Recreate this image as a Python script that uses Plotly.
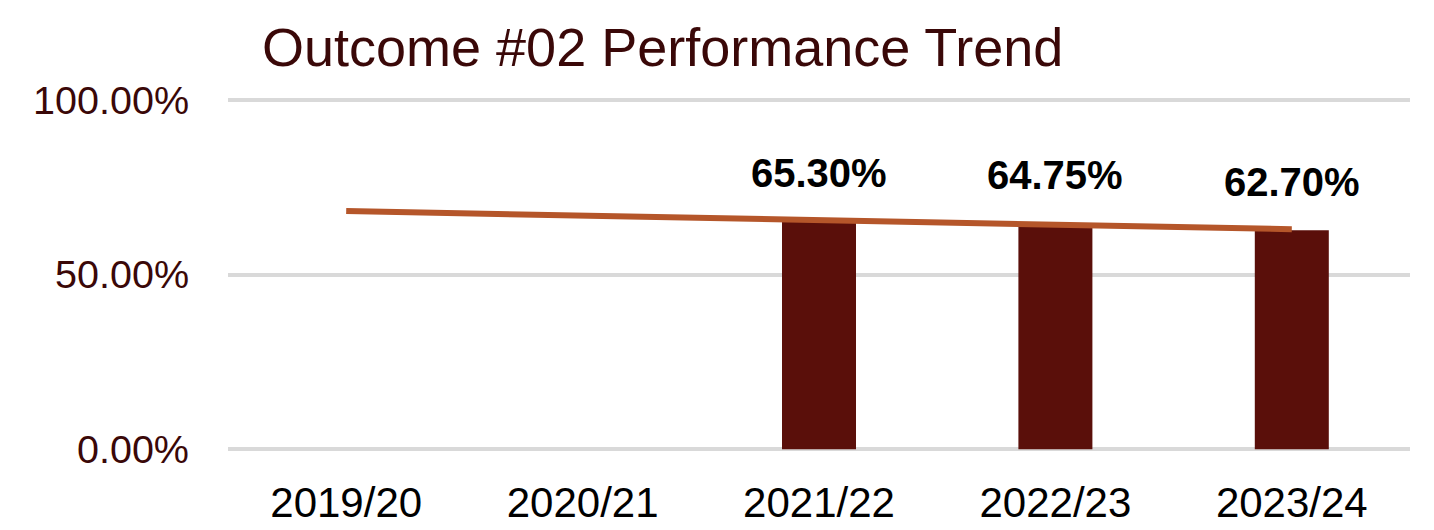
import plotly.graph_objects as go

# data
years = ["2019/20", "2020/21", "2021/22", "2022/23", "2023/24"]
bar_years = ["2021/22", "2022/23", "2023/24"]
bar_values = [65.30, 64.75, 62.70]
trend_years = ["2019/20", "2023/24"]
trend_values = [68.15, 62.95]
y_ticks = [0, 50, 100]
y_tick_text = ["0.00%", "50.00%", "100.00%"]

FONT = "Liberation Sans, Arial, sans-serif"
TEXT_DARK = "#3a0808"

fig = go.Figure()

fig.add_trace(go.Bar(x=bar_years, y=bar_values, marker=dict(color="#5a0f0a", line=dict(width=0)),
                     hoverinfo="skip"))

fig.add_trace(go.Scatter(x=trend_years, y=trend_values, mode="lines",
                         line=dict(color="#b5562a", width=6), hoverinfo="skip"))

# bold value labels over the bars
for yr, v in zip(bar_years, bar_values):
    fig.add_annotation(x=yr, y=v, text="<b>{:.2f}%</b>".format(v), showarrow=False,
                       yanchor="middle", yshift=48,
                       font=dict(family=FONT, size=40, color="#000000"))

# page body adds 8px, so margins are pulled in by that much
# y range padded a bit so the 0% and 100% gridlines still get drawn
fig.update_layout(
    width=1434, height=530,
    margin=dict(l=220, r=32, t=92 - 2.8, b=84 - 2.8),
    paper_bgcolor="white", plot_bgcolor="white",
    showlegend=False,
    bargap=0.687,
    font=dict(family=FONT),
    title=dict(text="Outcome #02 Performance Trend", x=254 / 1434, xanchor="left",
               y=1 - 39 / 530, yanchor="middle",
               font=dict(family=FONT, size=54, color=TEXT_DARK)),
)

fig.update_xaxes(categoryorder="array", categoryarray=years, range=[-0.5, 4.5],
                 showgrid=False, showline=False, ticks="", zeroline=False,
                 tickfont=dict(family=FONT, size=42, color="#000000"),
                 ticklabelstandoff=22)

fig.update_yaxes(range=[-0.8, 100.8], tickvals=y_ticks, ticktext=y_tick_text,
                 showgrid=True, gridcolor="#d9d9d9", gridwidth=4,
                 zeroline=False, showline=False, ticks="",
                 tickfont=dict(family=FONT, size=39.5, color=TEXT_DARK),
                 ticklabelstandoff=38)

fig.write_html("out.html")
